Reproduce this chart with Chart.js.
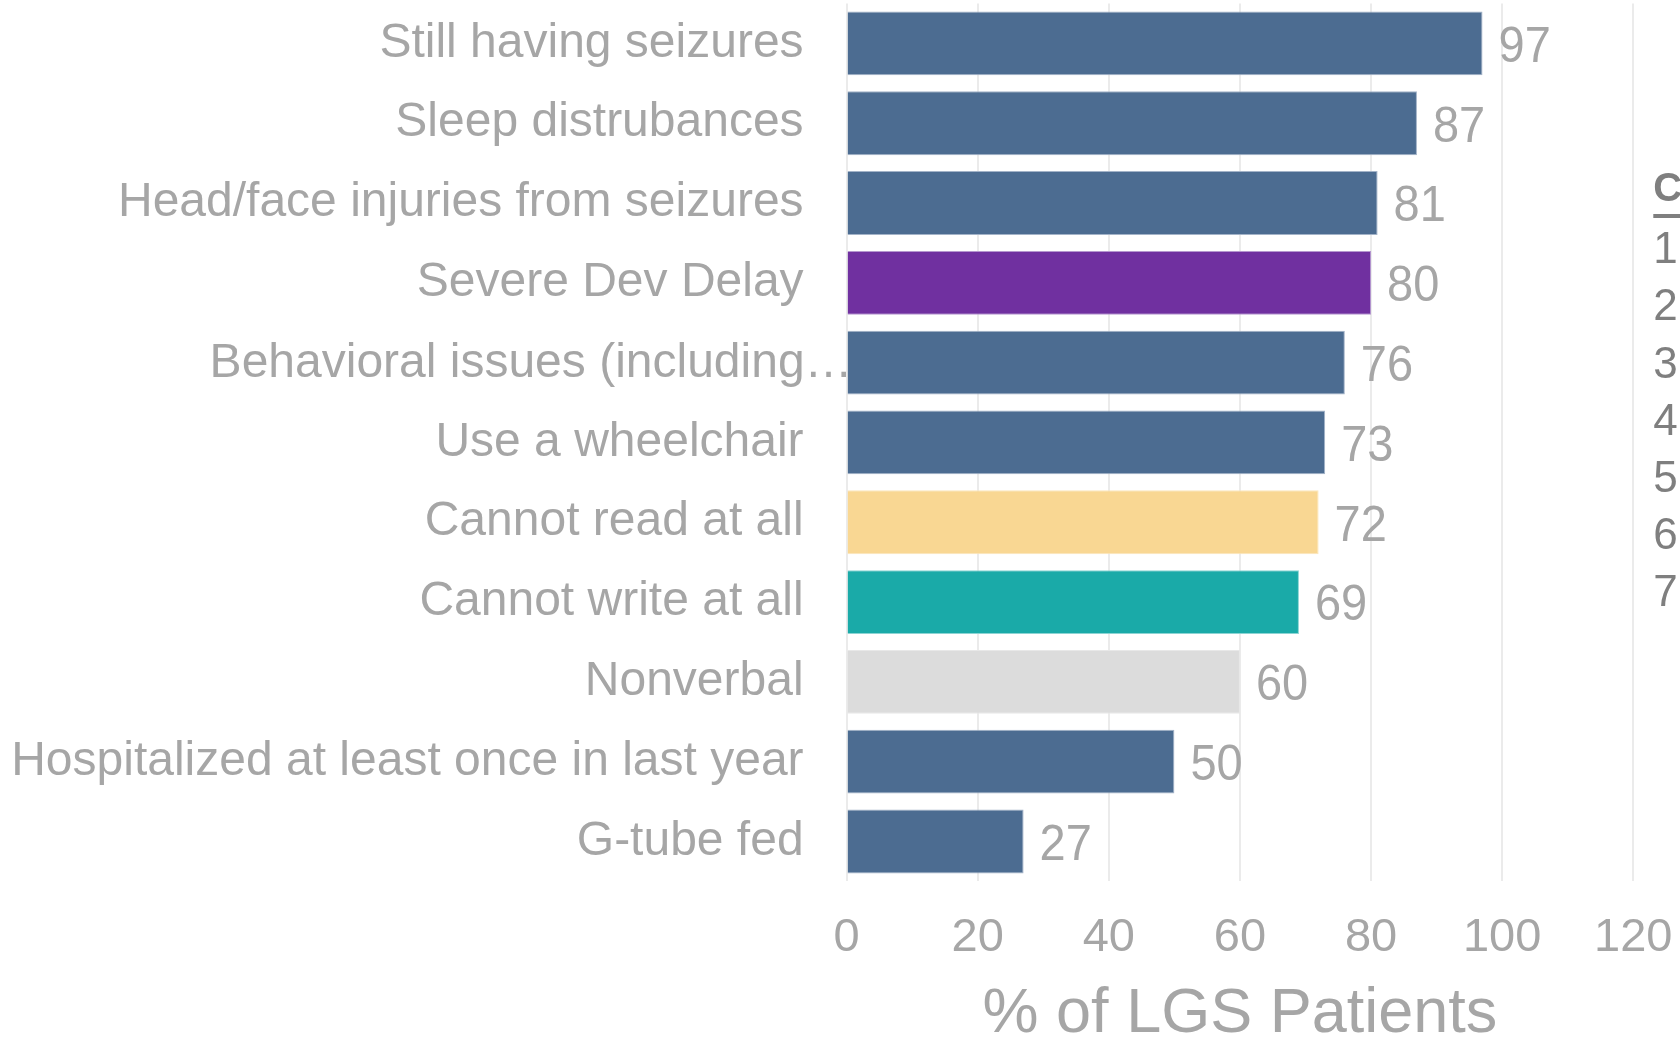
<!DOCTYPE html>
<html>
<head>
<meta charset="utf-8">
<script src="https://cdn.jsdelivr.net/npm/chart.js@4"></script>
<style>
  html, body { margin: 0; padding: 0; background: #ffffff; }
  #wrap { width: 1680px; height: 1038px; }
</style>
</head>
<body>
<div id="wrap"><canvas id="c" width="1680" height="1038"></canvas></div>
<script>
const categories = [
  'Still having seizures',
  'Sleep distrubances',
  'Head/face injuries from seizures',
  'Severe Dev Delay',
  'Behavioral issues (including\u2026',
  'Use a wheelchair',
  'Cannot read at all',
  'Cannot write at all',
  'Nonverbal',
  'Hospitalized at least once in last year',
  'G-tube fed'
];
const values = [97, 87, 81, 80, 76, 73, 72, 69, 60, 50, 27];
const barColors = ['#4c6c91', '#4c6c91', '#4c6c91', '#7030a0', '#4c6c91', '#4c6c91', '#f9d793', '#1aaaa8', '#dcdcdc', '#4c6c91', '#4c6c91'];
const borderColors = ['#a3b3c8', '#a3b3c8', '#a3b3c8', '#b597cf', '#a3b3c8', '#a3b3c8', '#fbe6bc', '#8cd4d3', '#e8e8e8', '#a3b3c8', '#a3b3c8'];
const xTicks = [0, 20, 40, 60, 80, 100, 120];
const xTitle = '% of LGS Patients';
const legendTitle = 'C';
const legendItems = ['1', '2', '3', '4', '5', '6', '7'];
const overflowLabelIndex = 4;

const LABEL_GRAY = '#a6a6a6';
const FONT = "'Liberation Sans', Arial, Helvetica, sans-serif";
const CLEAR = 'rgba(0,0,0,0)';

const dataLabels = {
  id: 'dataLabels',
  afterDatasetsDraw(chart) {
    const ctx = chart.ctx;
    const meta = chart.getDatasetMeta(0);
    ctx.save();
    ctx.font = '47px ' + FONT;
    ctx.fillStyle = LABEL_GRAY;
    ctx.textAlign = 'left';
    ctx.textBaseline = 'alphabetic';
    meta.data.forEach((bar, i) => {
      ctx.save();
      ctx.translate(bar.x + 16, bar.y + 18.3);
      ctx.scale(1, 1.05);
      ctx.fillText(String(values[i]), 0, 0);
      ctx.restore();
    });
    const yScale = chart.scales.y;
    ctx.font = '48px ' + FONT;
    ctx.textAlign = 'right';
    ctx.textBaseline = 'middle';
    ctx.fillText(categories[overflowLabelIndex], chart.chartArea.left + 6, yScale.getPixelForTick(overflowLabelIndex) + 1);
    ctx.restore();
  }
};

const sideLegend = {
  id: 'sideLegend',
  afterDraw(chart) {
    const ctx = chart.ctx;
    const x0 = chart.chartArea.right + 20;
    ctx.save();
    ctx.fillStyle = '#7f7f7f';
    ctx.textAlign = 'left';
    ctx.textBaseline = 'middle';
    ctx.font = 'bold 40px ' + FONT;
    ctx.fillText(legendTitle, x0, 190);
    ctx.fillRect(x0, 214, 40, 4);
    ctx.font = '44px ' + FONT;
    legendItems.forEach((t, i) => {
      ctx.fillText(t, x0, 251 + i * 57.2);
    });
    ctx.restore();
  }
};

new Chart(document.getElementById('c'), {
  type: 'bar',
  data: {
    labels: categories,
    datasets: [{
      data: values,
      backgroundColor: barColors,
      borderColor: borderColors,
      borderWidth: 1,
      barPercentage: 0.8,
      categoryPercentage: 1.0
    }]
  },
  options: {
    indexAxis: 'y',
    responsive: false,
    animation: false,
    events: [],
    layout: { padding: { top: 3.5, right: 46.7, left: 0, bottom: 0 } },
    plugins: {
      legend: { display: false },
      tooltip: { enabled: false },
      title: { display: false }
    },
    scales: {
      x: {
        min: 0,
        max: 120,
        afterBuildTicks(scale) { scale.ticks = xTicks.map(v => ({ value: v })); },
        afterFit(scale) { scale.height = 156.6; },
        grid: { color: '#ebebeb', lineWidth: 2, drawTicks: true, tickLength: 28.6, tickColor: CLEAR },
        border: { display: false },
        ticks: {
          color: LABEL_GRAY,
          font: { family: FONT, size: 47 },
          padding: 0,
          maxRotation: 0
        },
        title: {
          display: true,
          text: xTitle,
          color: LABEL_GRAY,
          font: { family: FONT, size: 63, lineHeight: 0.74 },
          padding: { top: 0, bottom: 0 }
        }
      },
      y: {
        afterFit(scale) { scale.width = 846.6; },
        grid: { display: true, drawOnChartArea: false, drawTicks: true, tickLength: 43, tickColor: CLEAR, color: CLEAR },
        border: { display: false },
        ticks: {
          color: LABEL_GRAY,
          font: { family: FONT, size: 48, lineHeight: 0.1 },
          padding: 0,
          autoSkip: false,
          callback(value, index) { return index === overflowLabelIndex ? '' : categories[index]; }
        }
      }
    }
  },
  plugins: [dataLabels, sideLegend]
});
</script>
</body>
</html>
